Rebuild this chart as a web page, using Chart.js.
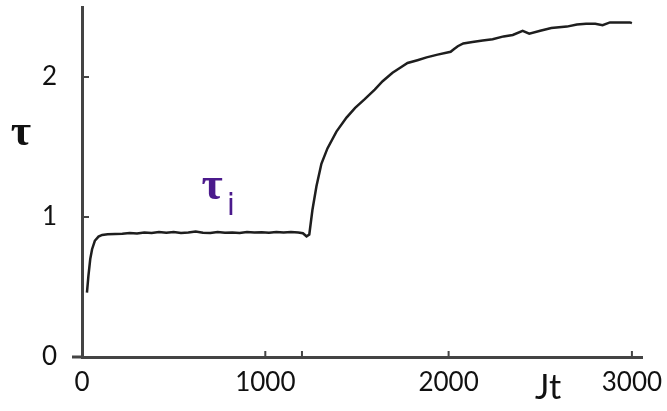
<!DOCTYPE html>
<html>
<head>
<meta charset="utf-8">
<script src="https://cdn.jsdelivr.net/npm/chart.js@4"></script>
<style>
  html, body { margin: 0; padding: 0; background: #fff; }
  #wrap { width: 667px; height: 411px; }
</style>
</head>
<body>
<div id="wrap"><canvas id="tauChart" width="667" height="411"></canvas></div>
<script>
// time (Jt) and tau
const jt = [27, 35, 45, 55, 70, 90, 110, 140, 180, 220, 260, 300, 340, 380, 420, 460, 500, 540, 580, 620,
  660, 700, 740, 780, 820, 860, 900, 940, 980, 1020, 1060, 1100, 1140, 1180, 1205, 1225, 1240, 1257, 1279,
  1306, 1339, 1388, 1443, 1490, 1541, 1597, 1640, 1694, 1740, 1776, 1830, 1880, 1940, 2011, 2030,
  2050, 2080, 2130, 2186, 2240, 2300, 2350, 2404, 2440, 2500, 2560, 2645, 2700, 2750, 2800, 2840, 2880,
  2940, 2989, 3000];
const tau = [0.46, 0.58, 0.70, 0.77, 0.83, 0.86, 0.872, 0.876, 0.878, 0.88, 0.885, 0.882, 0.89, 0.885,
  0.892, 0.888, 0.893, 0.886, 0.89, 0.897, 0.888, 0.885, 0.892, 0.887, 0.89, 0.886, 0.893, 0.889, 0.891,
  0.887, 0.893, 0.889, 0.892, 0.89, 0.884, 0.862, 0.875, 1.05, 1.22, 1.38, 1.49, 1.61, 1.71, 1.78, 1.84,
  1.91, 1.97, 2.03, 2.07, 2.10, 2.12, 2.14, 2.16, 2.18, 2.20, 2.22, 2.24, 2.25, 2.26, 2.27, 2.29,
  2.30, 2.33, 2.31, 2.33, 2.35, 2.36, 2.375, 2.38, 2.38, 2.37, 2.39, 2.39, 2.39, 2.385];

const xTicks = [0, 1000, 2000, 3000];
const yTicks = [0, 1, 2];
const xMarks = [1000, 1200, 2000, 3000];
const yMarks = [1, 2];

const points = jt.map((x, i) => ({ x: x, y: tau[i] }));

// inward tick marks, axis stub and the text labels
const extras = {
  id: 'extras',
  afterDraw(chart) {
    const ctx = chart.ctx;
    const xs = chart.scales.x, ys = chart.scales.y;
    const a = chart.chartArea;
    ctx.save();
    ctx.strokeStyle = '#444';
    ctx.lineWidth = 2;
    ctx.beginPath();
    xMarks.forEach(v => {
      const px = xs.getPixelForValue(v);
      ctx.moveTo(px, a.bottom);
      ctx.lineTo(px, a.bottom - 6);
    });
    yMarks.forEach(v => {
      const py = ys.getPixelForValue(v);
      ctx.moveTo(a.left, py);
      ctx.lineTo(a.left + 7, py);
    });
    ctx.stroke();
    ctx.lineWidth = 3;
    ctx.beginPath();
    ctx.moveTo(a.left - 10, a.bottom);
    ctx.lineTo(a.left, a.bottom);
    ctx.stroke();

    ctx.textAlign = 'center';
    ctx.textBaseline = 'middle';
    ctx.fillStyle = '#111';
    ctx.font = 'bold 44px "Liberation Serif"';
    ctx.fillText('τ', 21, 134);
    ctx.font = '34px Lato';
    ctx.fillText('Jt', 548, 388);

    ctx.fillStyle = '#4b1a8c';
    ctx.font = 'bold 46px "Liberation Serif"';
    ctx.fillText('τ', 212, 187);
    ctx.font = '30px "DejaVu Sans"';
    ctx.fillText('i', 231, 207);
    ctx.restore();
  }
};

const config = {
  type: 'line',
  data: {
    datasets: [{
      data: points,
      borderColor: '#1e1e1e',
      borderWidth: 2.5,
      pointRadius: 0,
      tension: 0,
      fill: false
    }]
  },
  options: {
    responsive: false,
    animation: false,
    layout: { padding: { left: 0, right: 25, top: 7, bottom: 0 } },
    plugins: { legend: { display: false }, tooltip: { enabled: false } },
    scales: {
      x: {
        type: 'linear',
        min: 0,
        max: 3055,
        grid: { display: false, drawTicks: false },
        border: { display: true, color: '#444', width: 3 },
        afterBuildTicks: s => { s.ticks = xTicks.map(v => ({ value: v })); },
        afterFit: s => { s.height = 54; s.paddingLeft = 0; s.paddingRight = 0; },
        ticks: {
          padding: 10,
          maxRotation: 0,
          color: '#111',
          font: { family: 'Lato', size: 26 },
          callback: v => String(v)
        }
      },
      y: {
        min: 0,
        max: 2.5,
        grid: { display: false, drawTicks: false },
        border: { display: true, color: '#444', width: 3 },
        afterBuildTicks: s => { s.ticks = yTicks.map(v => ({ value: v })); },
        afterFit: s => { s.width = 82; s.paddingTop = 0; s.paddingBottom = 0; },
        ticks: {
          padding: 25,
          color: '#111',
          font: { family: 'Lato', size: 26 },
          callback: v => String(v)
        }
      }
    }
  },
  plugins: [extras]
};

window.onload = function() {
  const ctx = document.getElementById('tauChart').getContext('2d');
  new Chart(ctx, config);
};
</script>
</body>
</html>
